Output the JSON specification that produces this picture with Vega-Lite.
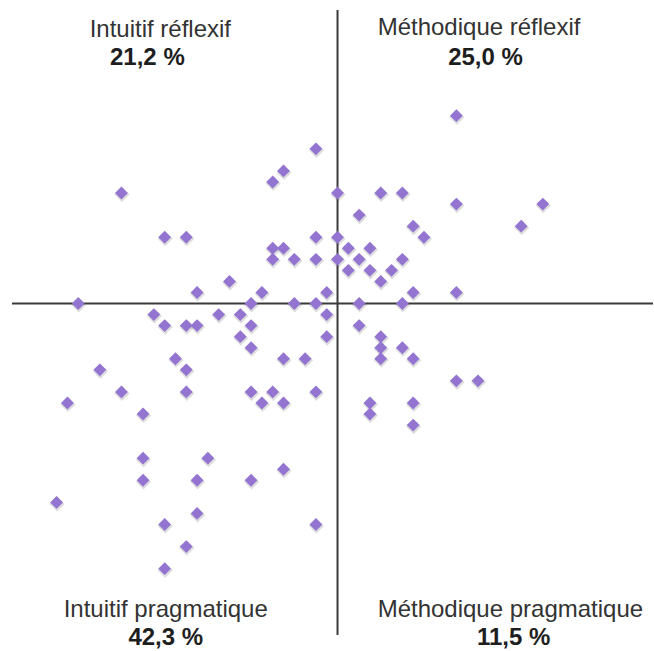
{
  "$schema": "https://vega.github.io/schema/vega-lite/v6.json",
  "width": 654,
  "height": 651,
  "padding": 0,
  "autosize": {"type": "fit", "contains": "padding"},
  "background": "white",
  "view": {"stroke": null},
  "config": {"font": "Liberation Sans"},
  "datasets": {
    "points": [
      {"x": -2, "y": 14}, {"x": -5, "y": 12}, {"x": -6, "y": 11}, {"x": -20, "y": 10},
      {"x": 0, "y": 10}, {"x": -16, "y": 6}, {"x": -14, "y": 6}, {"x": -2, "y": 6},
      {"x": 0, "y": 6}, {"x": -6, "y": 5}, {"x": -5, "y": 5}, {"x": -6, "y": 4},
      {"x": -4, "y": 4}, {"x": -2, "y": 4}, {"x": 0, "y": 4}, {"x": -10, "y": 2},
      {"x": -13, "y": 1}, {"x": -7, "y": 1}, {"x": -1, "y": 1}, {"x": -24, "y": 0},
      {"x": -8, "y": 0}, {"x": -4, "y": 0}, {"x": -2, "y": 0},
      {"x": 11, "y": 17}, {"x": 4, "y": 10}, {"x": 6, "y": 10}, {"x": 11, "y": 9},
      {"x": 19, "y": 9}, {"x": 2, "y": 8}, {"x": 17, "y": 7}, {"x": 7, "y": 7},
      {"x": 8, "y": 6}, {"x": 1, "y": 5}, {"x": 3, "y": 5}, {"x": 2, "y": 4},
      {"x": 6, "y": 4}, {"x": 1, "y": 3}, {"x": 3, "y": 3}, {"x": 5, "y": 3},
      {"x": 4, "y": 2}, {"x": 7, "y": 1}, {"x": 11, "y": 1}, {"x": 2, "y": 0},
      {"x": 6, "y": 0},
      {"x": -17, "y": -1}, {"x": -11, "y": -1}, {"x": -9, "y": -1}, {"x": -1, "y": -1},
      {"x": -16, "y": -2}, {"x": -14, "y": -2}, {"x": -13, "y": -2}, {"x": -8, "y": -2},
      {"x": -9, "y": -3}, {"x": -1, "y": -3}, {"x": -8, "y": -4}, {"x": -15, "y": -5},
      {"x": -5, "y": -5}, {"x": -3, "y": -5}, {"x": -14, "y": -6}, {"x": -22, "y": -6},
      {"x": -20, "y": -8}, {"x": -14, "y": -8}, {"x": -8, "y": -8}, {"x": -6, "y": -8},
      {"x": -2, "y": -8}, {"x": -25, "y": -9}, {"x": -7, "y": -9}, {"x": -5, "y": -9},
      {"x": -18, "y": -10}, {"x": -18, "y": -14}, {"x": -12, "y": -14}, {"x": -18, "y": -16},
      {"x": -13, "y": -16}, {"x": -8, "y": -16}, {"x": -5, "y": -15}, {"x": -26, "y": -18},
      {"x": -13, "y": -19}, {"x": -16, "y": -20}, {"x": -2, "y": -20}, {"x": -14, "y": -22},
      {"x": -16, "y": -24},
      {"x": 2, "y": -2}, {"x": 4, "y": -3}, {"x": 4, "y": -4}, {"x": 4, "y": -5},
      {"x": 6, "y": -4}, {"x": 7, "y": -5}, {"x": 11, "y": -7}, {"x": 13, "y": -7},
      {"x": 3, "y": -9}, {"x": 3, "y": -10}, {"x": 7, "y": -9}, {"x": 7, "y": -11}
    ],
    "lines": [
      {"x": 0, "x2": 0, "y": 26.56, "y2": -30.0},
      {"x": -30.13, "x2": 29.2, "y": 0, "y2": 0}
    ],
    "labels": [
      {"name": "Intuitif réflexif", "pct": "21,2 %", "nx": -16.4, "ny": 24.1, "px": -17.6, "py": 21.6},
      {"name": "Méthodique réflexif", "pct": "25,0 %", "nx": 13.1, "ny": 24.3, "px": 13.7, "py": 21.6},
      {"name": "Intuitif pragmatique", "pct": "42,3 %", "nx": -15.9, "ny": -28.4, "px": -15.9, "py": -30.9},
      {"name": "Méthodique pragmatique", "pct": "11,5 %", "nx": 16.0, "ny": -28.4, "px": 16.3, "py": -30.9}
    ]
  },
  "layer": [
    {
      "data": {"name": "lines"},
      "mark": {"type": "rule", "stroke": "#3a3a3a", "strokeWidth": 2},
      "encoding": {
        "x": {"field": "x", "type": "quantitative", "scale": {"domain": [-31.24, 29.2], "nice": false, "zero": false}, "axis": null},
        "x2": {"field": "x2"},
        "y": {"field": "y", "type": "quantitative", "scale": {"domain": [-31.45, 27.47], "nice": false, "zero": false}, "axis": null},
        "y2": {"field": "y2"}
      }
    },
    {
      "data": {"name": "points"},
      "mark": {"type": "point", "shape": "diamond", "filled": true, "size": 230, "color": "#555555", "opacity": 0.2, "yOffset": 1.5, "xOffset": 0.5},
      "encoding": {
        "x": {"field": "x", "type": "quantitative"},
        "y": {"field": "y", "type": "quantitative"}
      }
    },
    {
      "data": {"name": "points"},
      "mark": {"type": "point", "shape": "diamond", "filled": true, "size": 165, "color": "#9374d1", "opacity": 1},
      "encoding": {
        "x": {"field": "x", "type": "quantitative"},
        "y": {"field": "y", "type": "quantitative"}
      }
    },
    {
      "data": {"name": "labels"},
      "mark": {"type": "text", "align": "center", "baseline": "alphabetic", "fontSize": 24, "color": "#333333"},
      "encoding": {
        "x": {"field": "nx", "type": "quantitative"},
        "y": {"field": "ny", "type": "quantitative"},
        "text": {"field": "name"}
      }
    },
    {
      "data": {"name": "labels"},
      "mark": {"type": "text", "align": "center", "baseline": "alphabetic", "fontSize": 24, "fontWeight": "bold", "color": "#1e1e1e"},
      "encoding": {
        "x": {"field": "px", "type": "quantitative"},
        "y": {"field": "py", "type": "quantitative"},
        "text": {"field": "pct"}
      }
    }
  ]
}
